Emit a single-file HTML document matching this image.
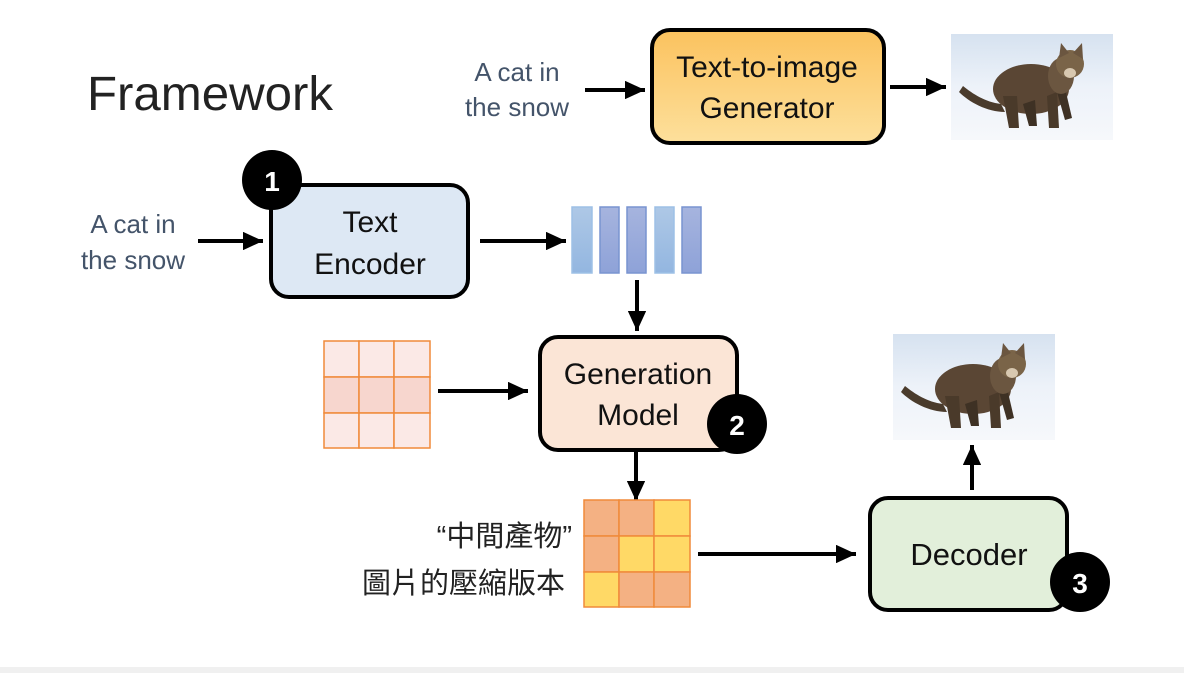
<!DOCTYPE html>
<html><head><meta charset="utf-8"><style>
html,body{margin:0;padding:0;background:#fff;}
svg text{font-family:"Liberation Sans","Noto Sans CJK TC",sans-serif;}
</style></head><body>
<svg width="1184" height="673" viewBox="0 0 1184 673" xmlns="http://www.w3.org/2000/svg">
<defs>
<marker id="ah" markerWidth="5" markerHeight="4.6" refX="5" refY="2.3" orient="auto" markerUnits="strokeWidth">
<path d="M0,0 L5,2.3 L0,4.6 z" fill="#000"/></marker>
<linearGradient id="og" x1="0" y1="0" x2="0" y2="1"><stop offset="0" stop-color="#fbc25e"/><stop offset="1" stop-color="#fde09c"/></linearGradient>
<linearGradient id="b1" x1="0" y1="0" x2="0" y2="1"><stop offset="0" stop-color="#aec8e6"/><stop offset="1" stop-color="#93b6e0"/></linearGradient>
<linearGradient id="b2" x1="0" y1="0" x2="0" y2="1"><stop offset="0" stop-color="#a6b4de"/><stop offset="1" stop-color="#8ea2d8"/></linearGradient>
<linearGradient id="snow" x1="0" y1="0" x2="0" y2="1"><stop offset="0" stop-color="#d6e2f0"/><stop offset="0.5" stop-color="#edf2f9"/><stop offset="1" stop-color="#f6f8fb"/></linearGradient>
<g id="cat">
<rect x="0" y="0" width="162" height="106" fill="url(#snow)"/>
<path d="M12,52 C22,60 34,68 50,70 L54,78 C36,78 18,68 8,58 z" fill="#4a3b2c"/>
<ellipse cx="80" cy="55" rx="38" ry="25" fill="#5a4634"/>
<path d="M52,62 L58,94 L68,94 L66,62 z" fill="#4a3a2a"/>
<path d="M72,70 L78,92 L86,92 L84,66 z" fill="#3e3124"/>
<path d="M96,62 L98,94 L108,94 L106,58 z" fill="#4a3a2a"/>
<path d="M106,58 L114,86 L121,84 L114,54 z" fill="#3e3124"/>
<ellipse cx="110" cy="42" rx="13" ry="18" fill="#6b5640"/>
<circle cx="119" cy="30" r="14" fill="#7a6448"/>
<path d="M108,24 L110,9 L118,19 z M122,19 L131,9 L132,25 z" fill="#6b5640"/>
<ellipse cx="119" cy="39" rx="6" ry="5" fill="#d8c8b0"/>
</g>
</defs>
<text x="87" y="110" font-size="48" fill="#222" textLength="246" lengthAdjust="spacingAndGlyphs">Framework</text>
<g font-size="26" fill="#44546a" text-anchor="middle">
<text x="517" y="81">A cat in</text><text x="517" y="116">the snow</text>
<text x="133" y="233">A cat in</text><text x="133" y="269">the snow</text>
</g>
<g stroke="#000" stroke-width="4" fill="none" marker-end="url(#ah)">
<line x1="585" y1="90" x2="645" y2="90"/>
<line x1="890" y1="87" x2="946" y2="87"/>
<line x1="198" y1="241" x2="263" y2="241"/>
<line x1="480" y1="241" x2="566" y2="241"/>
<line x1="637" y1="280" x2="637" y2="331"/>
<line x1="438" y1="391" x2="528" y2="391"/>
<line x1="636" y1="452" x2="636" y2="501"/>
<line x1="698" y1="554" x2="856" y2="554"/>
<line x1="972" y1="490" x2="972" y2="445"/>
</g>
<rect x="652" y="30" width="232" height="113" rx="18" fill="url(#og)" stroke="#000" stroke-width="4"/>
<g font-size="30" fill="#111" text-anchor="middle">
<text x="767" y="77">Text-to-image</text><text x="767" y="118">Generator</text></g>
<use href="#cat" x="951" y="34"/>
<rect x="271" y="185" width="197" height="112" rx="18" fill="#dde8f4" stroke="#000" stroke-width="4"/>
<g font-size="30" fill="#111" text-anchor="middle">
<text x="370" y="232">Text</text><text x="370" y="274">Encoder</text></g>
<circle cx="272" cy="180" r="30" fill="#000"/>
<text x="272" y="191" font-size="28" font-weight="bold" fill="#fff" text-anchor="middle">1</text>
<g stroke-width="1.5">
<rect x="572" y="207" width="20" height="66" fill="url(#b1)" stroke="#9dc0e6"/>
<rect x="600" y="207" width="19" height="66" fill="url(#b2)" stroke="#7894d0"/>
<rect x="627" y="207" width="19" height="66" fill="url(#b2)" stroke="#7894d0"/>
<rect x="655" y="207" width="19" height="66" fill="url(#b1)" stroke="#9dc0e6"/>
<rect x="682" y="207" width="19" height="66" fill="url(#b2)" stroke="#7894d0"/>
</g>
<g stroke="#f08a3a" stroke-width="1.5">
<rect x="324" y="341" width="35" height="36" fill="#fbe9e6"/><rect x="359" y="341" width="35" height="36" fill="#fbe9e6"/><rect x="394" y="341" width="36" height="36" fill="#fbe9e6"/>
<rect x="324" y="377" width="35" height="36" fill="#f7d6ce"/><rect x="359" y="377" width="35" height="36" fill="#f7d6ce"/><rect x="394" y="377" width="36" height="36" fill="#f7d6ce"/>
<rect x="324" y="413" width="35" height="35" fill="#fbe9e6"/><rect x="359" y="413" width="35" height="35" fill="#fbe9e6"/><rect x="394" y="413" width="36" height="35" fill="#fbe9e6"/>
</g>
<rect x="540" y="337" width="197" height="113" rx="18" fill="#fbe5d6" stroke="#000" stroke-width="4"/>
<g font-size="30" fill="#111" text-anchor="middle">
<text x="638" y="384">Generation</text><text x="638" y="425">Model</text></g>
<circle cx="737" cy="424" r="30" fill="#000"/>
<text x="737" y="435" font-size="28" font-weight="bold" fill="#fff" text-anchor="middle">2</text>
<g stroke="#f08a3a" stroke-width="1.5">
<rect x="584" y="500" width="35" height="36" fill="#f4b183"/><rect x="619" y="500" width="35" height="36" fill="#f4b183"/><rect x="654" y="500" width="36" height="36" fill="#ffd966"/>
<rect x="584" y="536" width="35" height="36" fill="#f4b183"/><rect x="619" y="536" width="35" height="36" fill="#ffd966"/><rect x="654" y="536" width="36" height="36" fill="#ffd966"/>
<rect x="584" y="572" width="35" height="35" fill="#ffd966"/><rect x="619" y="572" width="35" height="35" fill="#f4b183"/><rect x="654" y="572" width="36" height="35" fill="#f4b183"/>
</g>
<g font-size="29" fill="#222" text-anchor="end">
<text x="572" y="546">“中間產物”</text><text x="565" y="593">圖片的壓縮版本</text></g>
<rect x="870" y="498" width="197" height="112" rx="18" fill="#e2efda" stroke="#000" stroke-width="4"/>
<text x="969" y="565" font-size="31" fill="#111" text-anchor="middle">Decoder</text>
<circle cx="1080" cy="582" r="30" fill="#000"/>
<text x="1080" y="593" font-size="28" font-weight="bold" fill="#fff" text-anchor="middle">3</text>
<use href="#cat" x="893" y="334"/>
<rect x="0" y="667" width="1184" height="6" fill="#f0f0f0"/>
</svg>
</body></html>
